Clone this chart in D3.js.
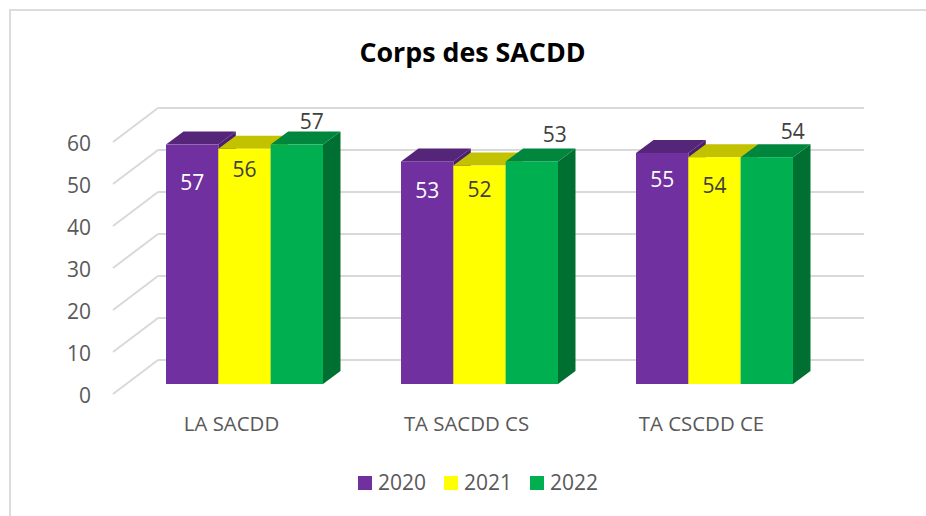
<!DOCTYPE html>
<html lang="fr">
<head>
<meta charset="utf-8">
<title>Corps des SACDD</title>
<script src="https://cdn.jsdelivr.net/npm/d3@7"></script>
<style>
  html, body { margin: 0; padding: 0; background: #fff; }
  svg { display: block; }
  text { font-family: "Open Sans", sans-serif; }
</style>
</head>
<body>
<svg id="chart" width="926" height="516"></svg>
<script>
// Valeurs
const categories = ['LA SACDD', 'TA SACDD CS', 'TA CSCDD CE'];
const seriesNames = ['2020', '2021', '2022'];
const values2020 = [57, 53, 55];
const values2021 = [56, 52, 54];
const values2022 = [57, 53, 54];
const yTicks = [0, 10, 20, 30, 40, 50, 60];

const allValues = [values2020, values2021, values2022];
const faceColors = ['#7030A0', '#FFFF00', '#00B050'];
const topColors = ['#55257A', '#C2C200', '#00863D'];
const sideColors = ['#4B2070', '#A8A800', '#006F32'];
const labelColors = ['#fff', '#404040', '#404040'];

// Decalage manuel des etiquettes (dx, dy depuis le haut de la barre), par serie puis categorie
const labelOffsets = [
  [[0, 38], [0, 29], [0, 27]],
  [[0, 21], [0, 24], [0, 28]],
  [[15, -23], [23, -27], [26, -26]]
];

const svg = d3.select('#chart');

// cadre (seulement haut et gauche visibles)
svg.append('path')
  .attr('d', 'M10,516V10H926')
  .attr('fill', 'none')
  .attr('stroke', '#dcdcdc')
  .attr('stroke-width', 2);

svg.append('text')
  .attr('x', 472.5)
  .attr('y', 62)
  .attr('text-anchor', 'middle')
  .attr('font-size', 26.8)
  .attr('font-weight', 700)
  .attr('fill', '#000')
  .text('Corps des SACDD');

const y = d3.scaleLinear().domain([0, 60]).range([384, 132]);
const x0 = d3.scaleBand().domain(categories).range([127, 832]).paddingInner(0.332).paddingOuter(0.166);
const x1 = d3.scaleBand().domain(seriesNames).range([0, x0.bandwidth()]);

const depthX = 17.5, depthY = 13;   // profondeur des barres
const wallX = 158, wallRight = 864, wallDy = -24, sideX = 113, sideDy = 10;

// Grille : mur du fond et cote gauche
const grid = svg.append('g').attr('stroke', '#d9d9d9').attr('stroke-width', 2).attr('fill', 'none');
grid.selectAll('.back').data(yTicks).enter().append('line')
  .attr('class', 'back')
  .attr('x1', wallX).attr('x2', wallRight)
  .attr('y1', d => y(d) + wallDy).attr('y2', d => y(d) + wallDy);
grid.selectAll('.side').data(yTicks).enter().append('line')
  .attr('class', 'side')
  .attr('x1', sideX).attr('x2', wallX)
  .attr('y1', d => y(d) + sideDy).attr('y2', d => y(d) + wallDy);

// Axes
const yAxis = svg.append('g')
  .attr('transform', `translate(94,${sideDy + 2})`)
  .call(d3.axisLeft(y).tickValues(yTicks).tickSize(0));
yAxis.select('.domain').remove();
yAxis.selectAll('text').attr('font-size', 21).attr('fill', '#595959').attr('font-family', '"Open Sans", sans-serif');

const xAxis = svg.append('g')
  .attr('transform', 'translate(-13,414)')
  .call(d3.axisBottom(x0).tickSize(0));
xAxis.select('.domain').remove();
xAxis.selectAll('text').attr('font-size', 20.4).attr('fill', '#595959').attr('font-family', '"Open Sans", sans-serif');

// Barres 3D
categories.forEach((cat, c) => {
  const g = svg.append('g').attr('transform', `translate(${x0(cat)},0)`);
  seriesNames.forEach((s, i) => {
    const v = allValues[i][c];
    const l = x1(s), r = l + x1.bandwidth(), t = y(v), b = y(0);
    g.append('path')
      .attr('d', `M${r},${t}L${r + depthX},${t - depthY}L${r + depthX},${b - depthY}L${r},${b}Z`)
      .attr('fill', sideColors[i]);
    g.append('path')
      .attr('d', `M${l},${t}L${l + depthX},${t - depthY}L${r + depthX},${t - depthY}L${r},${t}Z`)
      .attr('fill', topColors[i]);
    g.append('rect')
      .attr('x', l).attr('y', t)
      .attr('width', x1.bandwidth()).attr('height', b - t)
      .attr('fill', faceColors[i]);
  });
});

// Etiquettes de donnees, au-dessus de toutes les barres
categories.forEach((cat, c) => {
  seriesNames.forEach((s, i) => {
    const [dx, dy] = labelOffsets[i][c];
    svg.append('text')
      .attr('x', x0(cat) + x1(s) + x1.bandwidth() / 2 + dx)
      .attr('y', y(allValues[i][c]) + dy)
      .attr('dy', '0.35em')
      .attr('text-anchor', 'middle')
      .attr('font-size', 21)
      .attr('fill', labelColors[i])
      .text(allValues[i][c]);
  });
});

// Legende
const legendX = d3.scalePoint().domain(seriesNames).range([358, 530]);
const legend = svg.selectAll('.legend').data(seriesNames).enter().append('g')
  .attr('class', 'legend')
  .attr('transform', d => `translate(${legendX(d)},476)`);
legend.append('rect')
  .attr('width', 14).attr('height', 14)
  .attr('fill', (d, i) => faceColors[i]);
legend.append('text')
  .attr('x', 20).attr('y', 7).attr('dy', '0.35em')
  .attr('font-size', 21)
  .attr('fill', '#595959')
  .text(d => d);
</script>
</body>
</html>
